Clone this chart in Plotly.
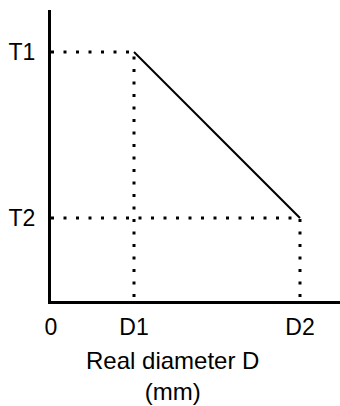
import plotly.graph_objects as go

# characteristic points: real diameter D vs T
d_vals = [1, 3]          # D1, D2
t_vals = [3, 1]          # T1, T2
x_tickvals = [0, 1, 3]
x_ticktext = ["0", "D1", "D2"]
y_tickvals = [1, 3]
y_ticktext = ["T2", "T1"]

FONT = "Liberation Sans, Arial, sans-serif"
DOT = "3px,9.5px"

fig = go.Figure()

# dotted guide lines from each point to the axes
for d, t in zip(d_vals, t_vals):
    fig.add_trace(go.Scatter(
        x=[0, d, d], y=[t, t, 0], mode="lines",
        line=dict(color="black", width=3, dash=DOT),
        hoverinfo="skip", showlegend=False
    ))

# solid characteristic line
fig.add_trace(go.Scatter(
    x=d_vals, y=t_vals, mode="lines",
    line=dict(color="black", width=2),
    showlegend=False
))

fig.update_xaxes(
    range=[0, 3.482], showgrid=False, zeroline=False, automargin=False,
    showline=True, linecolor="black", linewidth=3,
    tickvals=x_tickvals, ticktext=x_ticktext, ticks="",
    ticklabelstandoff=3,
    tickfont=dict(family=FONT, size=23, color="black")
)
fig.update_yaxes(
    range=[0, 3.506], showgrid=False, zeroline=False, automargin=False,
    showline=True, linecolor="black", linewidth=3,
    tickvals=y_tickvals, ticktext=y_ticktext, ticks="",
    ticklabelstandoff=8,
    tickfont=dict(family=FONT, size=23, color="black")
)

fig.add_annotation(
    text="Real diameter D<br>(mm)", xref="paper", yref="paper",
    x=0.422, y=-0.15, xanchor="center", yanchor="top", showarrow=False,
    font=dict(family=FONT, size=24, color="black")
)

fig.update_layout(
    width=340, height=406,
    margin=dict(l=51, r=0, t=10, b=105),
    plot_bgcolor="white", paper_bgcolor="white"
)

# drop the default page margin so the figure sits at the window corner
fig.write_html("out.html", config={"displayModeBar": False},
               post_script="document.body.style.margin='0';")
